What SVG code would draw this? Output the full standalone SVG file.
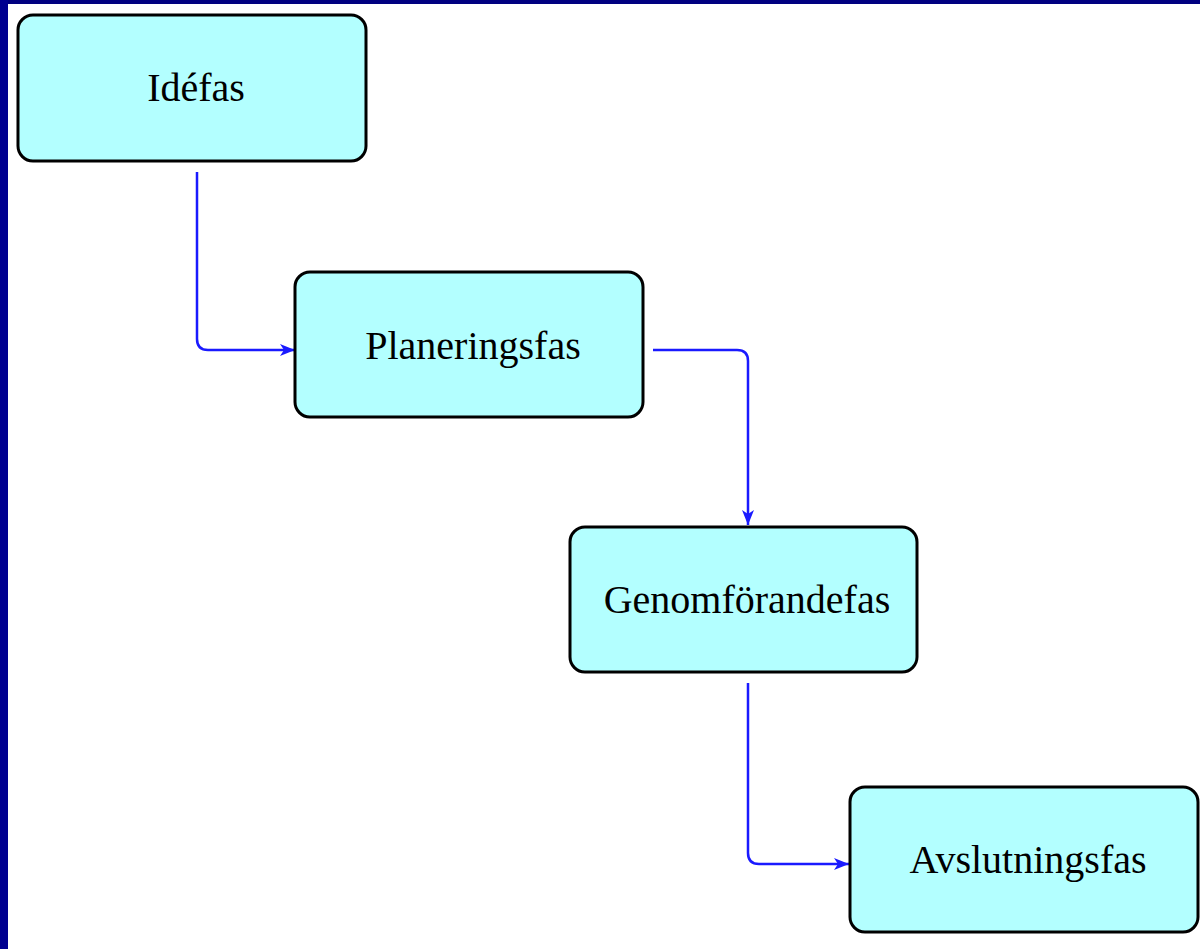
<svg xmlns="http://www.w3.org/2000/svg" width="1200" height="949" viewBox="0 0 1200 949">
<style>
.box{fill:#b3ffff;stroke:#000;stroke-width:3}
.lbl{font-family:"Liberation Serif","Times New Roman",serif;font-size:40px;fill:#000;text-anchor:middle}
.conn{fill:none;stroke:#1a1aff;stroke-width:2.5}
</style>
<defs>
<marker id="arr" markerWidth="16" markerHeight="14" refX="15" refY="7" orient="auto" markerUnits="userSpaceOnUse">
<path d="M0,1 L15,7 L0,13 L4,7 Z" fill="#1a1aff"/>
</marker>
</defs>
<rect x="0" y="0" width="1200" height="949" fill="#ffffff"/>
<rect x="0" y="0" width="1200" height="4" fill="#000080"/>
<rect x="0" y="0" width="8" height="949" fill="#000090"/>
<g id="connectors">
<path class="conn" d="M197,172 V339 Q197,350 208,350 H295" marker-end="url(#arr)"/>
<path class="conn" d="M653,350 H737 Q748,350 748,361 V525" marker-end="url(#arr)"/>
<path class="conn" d="M748,683 V853 Q748,864 759,864 H849" marker-end="url(#arr)"/>
</g>
<g id="idefas">
<rect class="box" x="18" y="15" width="348" height="146" rx="15"/>
<text class="lbl" x="196" y="101">Idéfas</text>
</g>
<g id="planeringsfas">
<rect class="box" x="295" y="272" width="348" height="145" rx="15"/>
<text class="lbl" x="473" y="359">Planeringsfas</text>
</g>
<g id="genomforandefas">
<rect class="box" x="570" y="527" width="347" height="145" rx="15"/>
<text class="lbl" x="747" y="613">Genomförandefas</text>
</g>
<g id="avslutningsfas">
<rect class="box" x="850" y="787" width="348" height="145" rx="15"/>
<text class="lbl" x="1028" y="873">Avslutningsfas</text>
</g>
</svg>
